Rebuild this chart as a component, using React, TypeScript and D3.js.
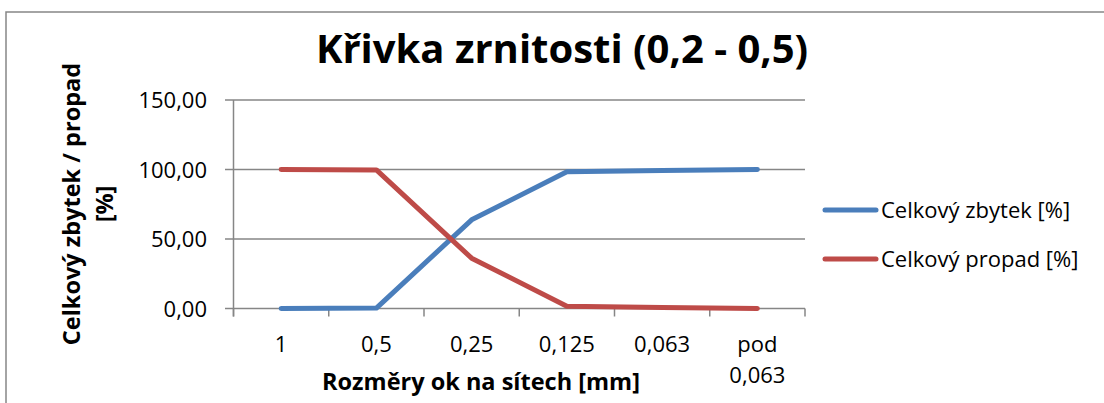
import React from 'react';
import * as d3 from 'd3';

const categories = ['1', '0,5', '0,25', '0,125', '0,063', 'pod 0,063'];
const zbytek = [0, 0.3, 63.8, 98.4, 99.3, 100];
const propad = [100, 99.7, 36.2, 1.6, 0.7, 0];
const yTicks = [0, 50, 100, 150];

const seriesNames = ['Celkový zbytek [%]', 'Celkový propad [%]'];
const colors = ['#4A7EBB', '#BE4B48'];

const W = 1104;
const H = 403;
const font = '"Open Sans", Calibri, sans-serif';

const App = () => {
  const plotLeft = 233.5;
  const plotRight = 805;
  const plotTop = 100;
  const plotBottom = 308.5;

  const x = d3.scaleBand<string>().domain(categories).range([plotLeft, plotRight]);
  const y = d3.scaleLinear().domain([0, 150]).range([plotBottom, plotTop]);
  const fmt = (v: number) => d3.format('.2f')(v).replace('.', ',');

  const line = d3
    .line<number>()
    .x((_, i) => (x(categories[i]) as number) + x.bandwidth() / 2)
    .y((d) => y(d));

  const grid = '#868686';
  const boundaries = categories.map((c) => x(c) as number).concat([plotRight]);

  return (
    <svg
      width={W}
      height={H}
      style={{ position: 'absolute', left: 0, top: 0, background: '#fff' }}
      fontFamily={font}
    >
      <rect x={6} y={12} width={W + 10} height={H + 10} fill="#fff" stroke={grid} strokeWidth={1.5} />

      <text x={562} y={63} textAnchor="middle" fontSize={40} fontWeight="bold" fill="#000">
        Křivka zrnitosti (0,2 - 0,5)
      </text>

      {/* gridlines + y ticks */}
      {yTicks.map((t) => (
        <g key={t}>
          <line x1={225} x2={plotRight} y1={y(t)} y2={y(t)} stroke={grid} strokeWidth={1.5} />
          <text x={207} y={y(t) + 8} textAnchor="end" fontSize={22} fill="#000">
            {fmt(t)}
          </text>
        </g>
      ))}
      <line x1={plotLeft} x2={plotLeft} y1={plotTop} y2={plotBottom + 8} stroke={grid} strokeWidth={1.5} />
      {boundaries.map((b, i) => (
        <line key={i} x1={b} x2={b} y1={plotBottom} y2={plotBottom + 8} stroke={grid} strokeWidth={1.5} />
      ))}

      {/* category labels */}
      {categories.map((c) => {
        const cx = (x(c) as number) + x.bandwidth() / 2;
        const parts = c.split(' ');
        return (
          <text key={c} x={cx} y={352} textAnchor="middle" fontSize={22} fill="#000">
            {parts.map((p, i) => (
              <tspan key={i} x={cx} dy={i === 0 ? 0 : 31}>
                {p}
              </tspan>
            ))}
          </text>
        );
      })}

      {/* series */}
      {[zbytek, propad].map((s, i) => (
        <path
          key={i}
          d={line(s) as string}
          fill="none"
          stroke={colors[i]}
          strokeWidth={5}
          strokeLinecap="round"
          strokeLinejoin="round"
        />
      ))}

      {/* axis titles */}
      <text x={481} y={390} textAnchor="middle" fontSize={23.5} fontWeight="bold" fill="#000">
        Rozměry ok na sítech [mm]
      </text>
      <g transform="translate(0,204) rotate(-90)">
        <text x={0} y={80} textAnchor="middle" fontSize={23.5} fontWeight="bold" fill="#000">
          Celkový zbytek / propad
        </text>
        <text x={0} y={113} textAnchor="middle" fontSize={23.5} fontWeight="bold" fill="#000">
          [%]
        </text>
      </g>

      {/* legend */}
      {seriesNames.map((n, i) => (
        <g key={n} transform={`translate(0,${210 + i * 49})`}>
          <line x1={825} x2={876} y1={0} y2={0} stroke={colors[i]} strokeWidth={5} strokeLinecap="round" />
          <text x={881} y={8} fontSize={22} fill="#000">
            {n}
          </text>
        </g>
      ))}
    </svg>
  );
};

export default App;
